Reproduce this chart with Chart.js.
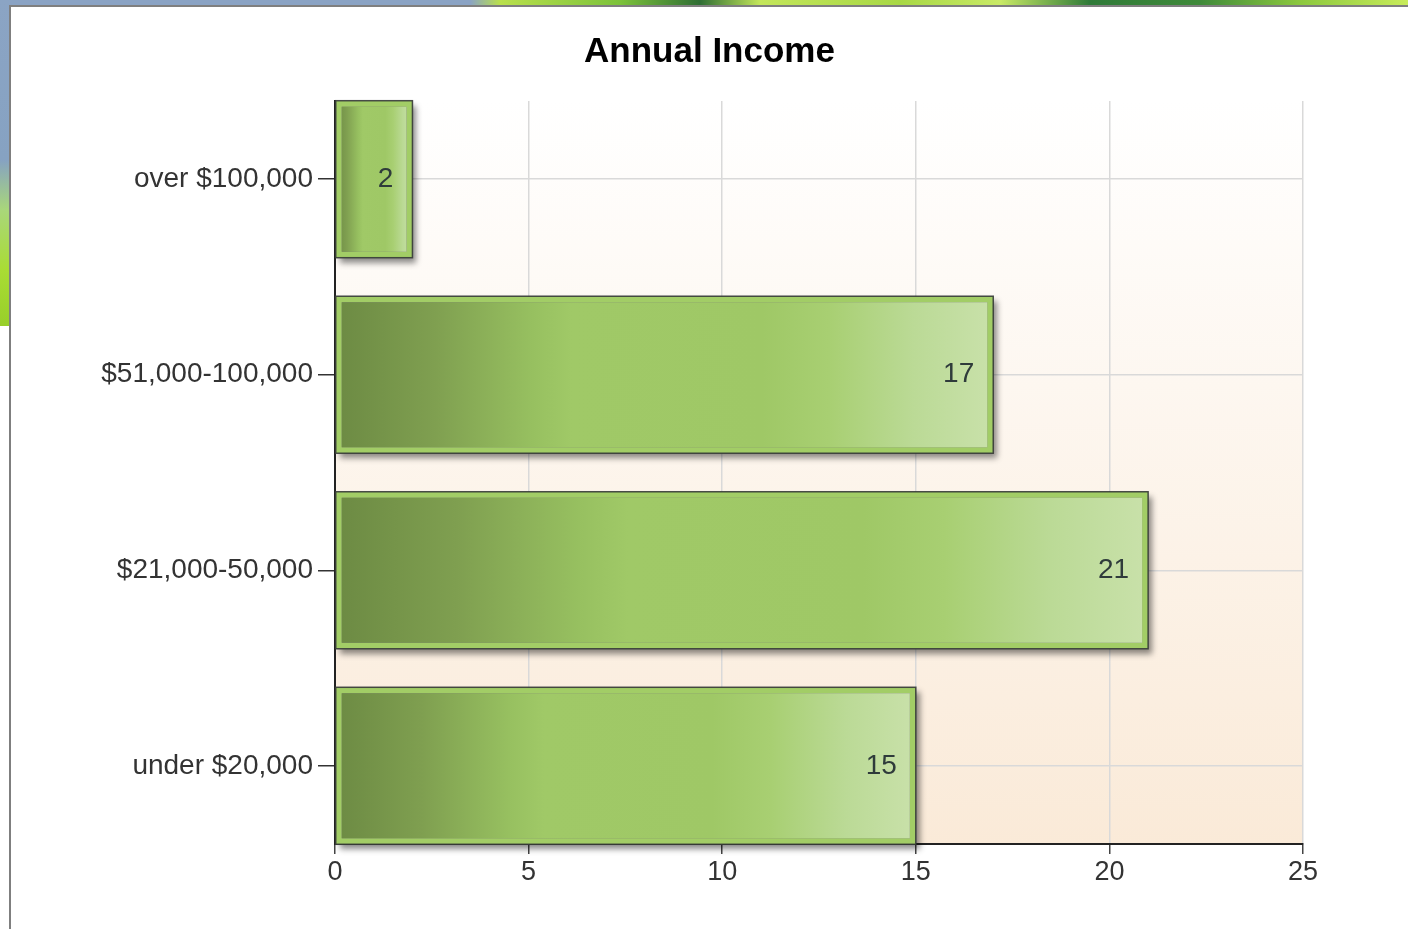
<!DOCTYPE html>
<html>
<head>
<meta charset="utf-8">
<title>Annual Income</title>
<script src="https://cdn.jsdelivr.net/npm/chart.js@4/dist/chart.umd.min.js"></script>
<style>
  body { margin: 0; background: #fff; width: 1408px; height: 929px; overflow: hidden; position: relative; }
  /* bits of the page behind the chart box */
  #top-strip { position: absolute; left: 0; top: 0; width: 1408px; height: 6px;
    background: linear-gradient(to right, #8aa3c4 0, #8aa3c4 470px, #b9e04c 500px, #7cc23a 620px, #2f6e34 700px,
      #c3e65a 760px, #a8d845 900px, #c9ea66 1000px, #2f7a38 1090px, #3f8a3a 1200px, #8cc83e 1300px, #c8ec5a 1408px); }
  #left-strip { position: absolute; left: 0; top: 0; width: 10px; height: 326px;
    background: linear-gradient(to bottom, #8ba4c4 0, #86a2c2 160px, #a9d77a 210px, #a9dc34 270px, #98cf2a 326px); }
  #box { position: absolute; left: 9px; top: 5px; width: 1399px; height: 924px;
    border-left: 2px solid #7f7f7f; border-top: 2px solid #7f7f7f; background: #fff; }
  #chart { display: block; }
</style>
</head>
<body>
<div id="top-strip"></div>
<div id="left-strip"></div>
<div id="box">
  <canvas id="chart" width="1397" height="922"></canvas>
</div>
<script>
// === Dados ===
const categories = ['over $100,000', '$51,000-100,000', '$21,000-50,000', 'under $20,000'];
const counts = [2, 17, 21, 15];
const xMin = 0;
const xMax = 25;
const xStep = 5;

const FONT = "'Liberation Sans', Arial, sans-serif";

// gradiente de cada barra, do zero até o valor
function barGradient(ctx) {
  const chart = ctx.chart;
  const xs = chart.scales.x;
  if (!xs || ctx.type !== 'data' || !ctx.parsed) return '#9fc966';
  const x0 = xs.getPixelForValue(0);
  const x1 = xs.getPixelForValue(ctx.parsed.x);
  if (!isFinite(x0) || !isFinite(x1) || x1 === x0) return '#9fc966';
  const g = chart.ctx.createLinearGradient(x0, 0, x1, 0);
  g.addColorStop(0, '#6c8a43');
  g.addColorStop(0.15, '#7f9f50');
  g.addColorStop(0.3, '#97c060');
  g.addColorStop(0.36, '#a0c967');
  g.addColorStop(0.65, '#9fc866');
  g.addColorStop(0.75, '#a8cf72');
  g.addColorStop(0.88, '#bbda96');
  g.addColorStop(1, '#c9e1aa');
  return g;
}

// fundo da área do gráfico
const plotBackground = {
  id: 'plotBackground',
  beforeDraw(chart) {
    const { ctx, chartArea: a } = chart;
    const g = ctx.createLinearGradient(0, a.top, 0, a.bottom);
    g.addColorStop(0, '#ffffff');
    g.addColorStop(1, '#faead8');
    ctx.save();
    ctx.fillStyle = g;
    ctx.fillRect(a.left, a.top, a.right - a.left, a.bottom - a.top);
    ctx.restore();
  }
};

function barBoxes(chart) {
  return chart.getDatasetMeta(0).data.map((bar, i) => {
    const p = bar.getProps(['x', 'y', 'base', 'height'], true);
    const left = Math.min(p.x, p.base);
    const right = Math.max(p.x, p.base);
    return { left, right, top: p.y - p.height / 2, h: p.height, y: p.y, value: counts[i] };
  });
}

// sombra, contorno e rótulos das barras
const barDecor = {
  id: 'barDecor',
  beforeDatasetsDraw(chart) {
    const ctx = chart.ctx;
    barBoxes(chart).forEach(b => {
      ctx.save();
      ctx.shadowColor = 'rgba(0,0,0,0.45)';
      ctx.shadowBlur = 6;
      ctx.shadowOffsetX = 4;
      ctx.shadowOffsetY = 5;
      ctx.fillStyle = '#777';
      ctx.fillRect(b.left, b.top, b.right - b.left, b.h);
      ctx.restore();
    });
  },
  afterDatasetsDraw(chart) {
    const ctx = chart.ctx;
    barBoxes(chart).forEach(b => {
      ctx.save();
      ctx.strokeStyle = 'rgba(55,60,55,0.9)';
      ctx.lineWidth = 1.5;
      ctx.strokeRect(b.left, b.top, b.right - b.left, b.h);
      ctx.fillStyle = '#2f3b3b';
      ctx.font = '28px ' + FONT;
      ctx.textAlign = 'right';
      ctx.textBaseline = 'middle';
      ctx.fillText(String(b.value), b.right - 19, b.y);
      ctx.restore();
    });
  }
};

const chart = new Chart(document.getElementById('chart'), {
  type: 'bar',
  data: {
    datasets: [{
      data: counts.map((v, i) => ({ x: v, y: i })),
      backgroundColor: barGradient,
      borderColor: '#a2cd66',
      borderWidth: 6,
      borderSkipped: false,
      barPercentage: 0.803,
      categoryPercentage: 1
    }]
  },
  options: {
    indexAxis: 'y',
    responsive: false,
    animation: false,
    layout: { padding: 0 },
    plugins: {
      legend: { display: false },
      tooltip: { enabled: false },
      title: {
        display: true,
        text: 'Annual Income',
        color: '#000',
        font: { family: FONT, size: 35, weight: 'bold' },
        padding: { top: 24, bottom: 28 }
      }
    },
    scales: {
      x: {
        type: 'linear',
        min: xMin,
        max: xMax,
        offset: false,
        ticks: { stepSize: xStep, color: '#333', padding: 2, font: { family: FONT, size: 27 } },
        grid: { offset: false, color: '#d9d9d9', lineWidth: 1.5, tickColor: '#444', tickLength: 10 },
        border: { color: '#222', width: 2 },
        afterFit: s => { s.height = 85; }
      },
      y: {
        type: 'linear',
        reverse: true,
        bounds: 'data',
        offset: false,
        min: -0.4,
        max: categories.length - 0.6,
        // uma marca por categoria
        afterBuildTicks: s => { s.ticks = categories.map((c, i) => ({ value: i })); },
        ticks: {
          color: '#333',
          padding: 5,
          font: { family: FONT, size: 28 },
          callback: v => categories[Math.round(v)] ?? ''
        },
        grid: { offset: false, color: '#d9d9d9', lineWidth: 1.5, tickColor: '#333', tickLength: 17 },
        border: { color: '#222', width: 2 },
        afterFit: s => { s.width = 324; }
      },
      // espaço à direita (o título continua centrado na largura toda)
      spacer: {
        type: 'linear',
        position: 'right',
        display: true,
        grid: { display: false },
        ticks: { display: false },
        border: { display: false },
        afterFit: s => { s.width = 105; }
      }
    }
  },
  plugins: [plotBackground, barDecor]
});
</script>
</body>
</html>
